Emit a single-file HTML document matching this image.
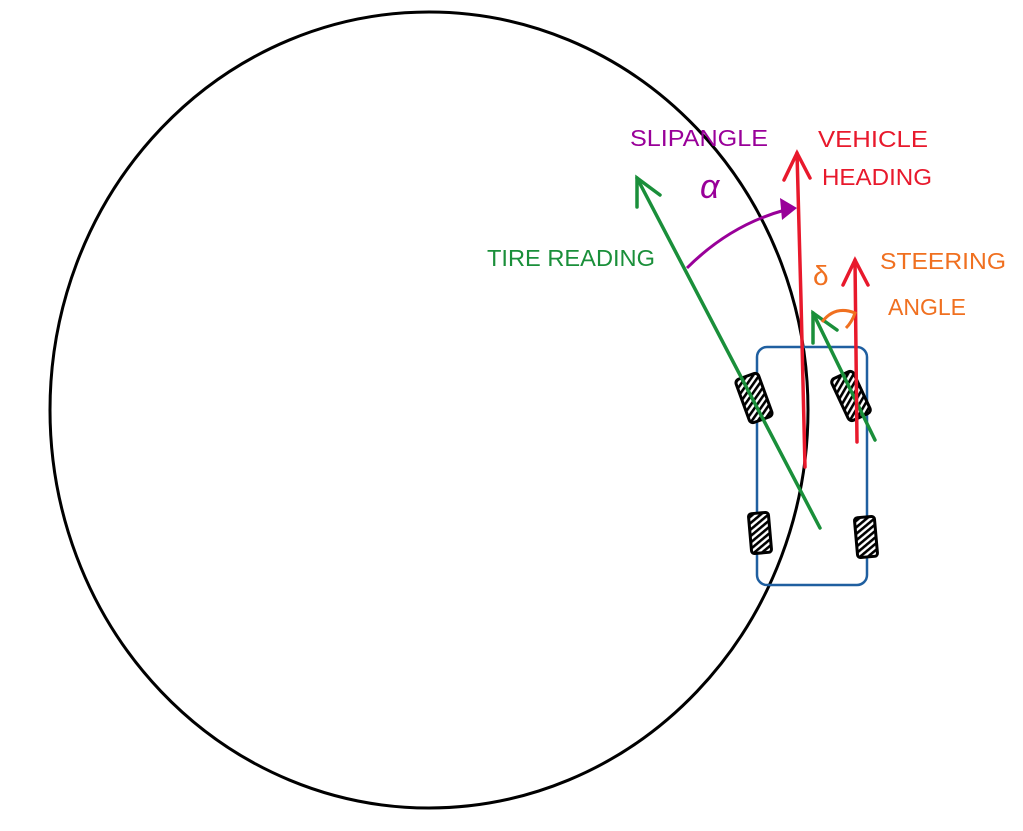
<!DOCTYPE html>
<html><head><style>html,body{margin:0;padding:0;background:#fff}</style></head><body>
<svg width="1023" height="826" viewBox="0 0 1023 826" xmlns="http://www.w3.org/2000/svg" font-family="Liberation Sans, sans-serif">
<defs>
<pattern id="h" width="5" height="5" patternUnits="userSpaceOnUse" patternTransform="rotate(-35)">
<rect width="5" height="5" fill="#fff"/><rect width="5" height="2.6" fill="#000"/>
</pattern>
</defs>
<rect width="1023" height="826" fill="#fff"/>
<ellipse cx="429" cy="410" rx="379" ry="398" fill="none" stroke="#000" stroke-width="3"/>
<!-- car -->
<rect x="757" y="347" width="110" height="238" rx="10" fill="none" stroke="#1f5fa0" stroke-width="2.5"/>
<g fill="url(#h)" stroke="#000" stroke-width="3">
<rect x="-12" y="-23" width="24" height="46" rx="4" transform="translate(754,398) rotate(-20)"/>
<rect x="-12" y="-23" width="24" height="46" rx="4" transform="translate(851,396) rotate(-25)"/>
<rect x="-10" y="-20" width="20" height="40" rx="3" transform="translate(760,533) rotate(-5)"/>
<rect x="-10" y="-20" width="20" height="40" rx="3" transform="translate(866,537) rotate(-5)"/>
</g>
<!-- green tire line -->
<g stroke="#1a8f3a" stroke-width="3.5" fill="none" stroke-linecap="round">
<line x1="637" y1="178" x2="820" y2="528"/>
<path d="M637 207 L637 178 L660 195"/>
<line x1="813" y1="313" x2="875" y2="440"/>
<path d="M813 343 L813 313 L837 330"/>
</g>
<!-- red -->
<g stroke="#e8192c" stroke-width="3.5" fill="none" stroke-linecap="round">
<path d="M797 153 L801 300 L805 467"/>
<path d="M784 180 L797 153 L810 178"/>
<path d="M855 260 L857 442"/>
<path d="M843 285 L855 260 L868 285"/>
</g>
<!-- purple arc -->
<path d="M687 268 Q730 225 785 210" stroke="#990099" stroke-width="3" fill="none"/>
<path d="M780 198 L797 208 L782 220 Z" fill="#990099"/>
<!-- orange arc -->
<path d="M822 322 Q835 305 855 313 Q852 322 846 328" stroke="#f07020" stroke-width="3" fill="none"/>
<!-- labels -->
<text x="630" y="146" font-size="23" fill="#990099" textLength="138" lengthAdjust="spacingAndGlyphs">SLIPANGLE</text>
<text x="700" y="198" font-size="34" fill="#990099" font-style="italic">α</text>
<text x="818" y="147" font-size="23" fill="#e8192c" textLength="110" lengthAdjust="spacingAndGlyphs">VEHICLE</text>
<text x="822" y="185" font-size="23" fill="#e8192c" textLength="110" lengthAdjust="spacingAndGlyphs">HEADING</text>
<text x="813" y="285" font-size="28" fill="#f07020">δ</text>
<text x="880" y="269" font-size="23" fill="#f07020" textLength="126" lengthAdjust="spacingAndGlyphs">STEERING</text>
<text x="888" y="315" font-size="23" fill="#f07020" textLength="78" lengthAdjust="spacingAndGlyphs">ANGLE</text>
<text x="487" y="266" font-size="23" fill="#1a8f3a" textLength="168" lengthAdjust="spacingAndGlyphs">TIRE READING</text>
</svg>
</body></html>
